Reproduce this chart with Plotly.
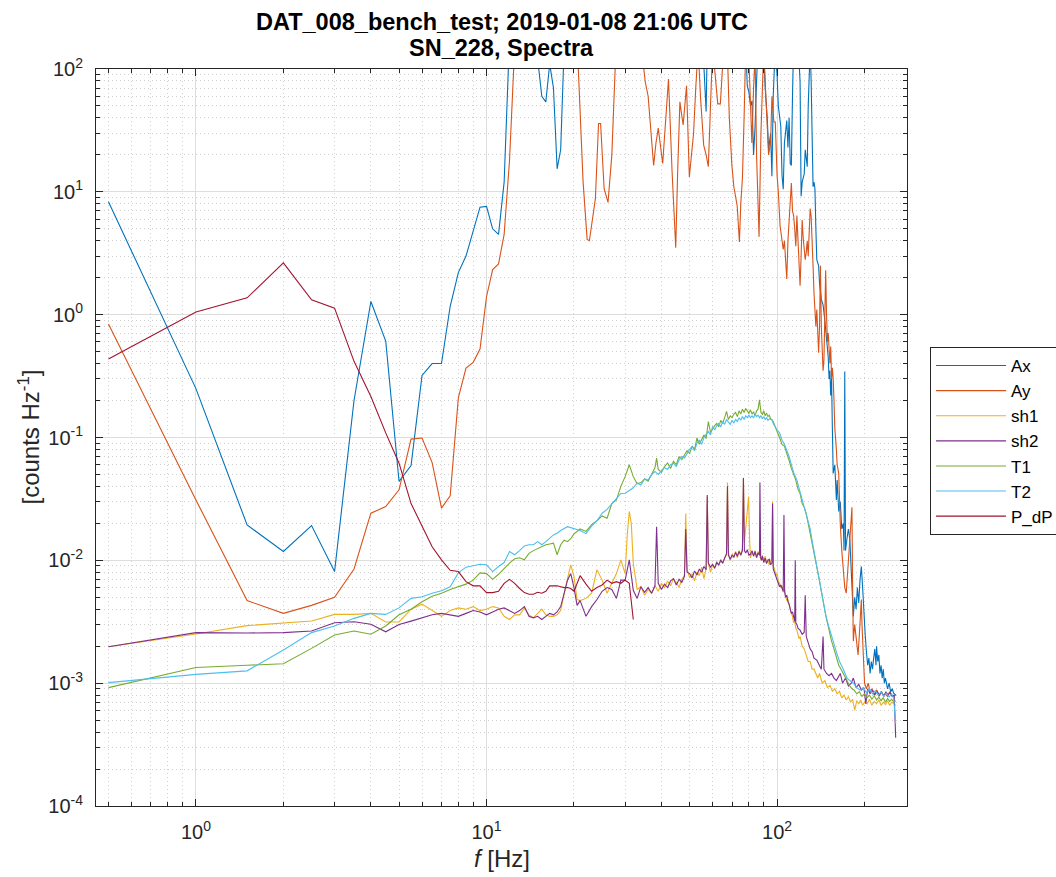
import numpy as np
import plotly.graph_objects as go

# Spectra per channel: (frequency [Hz], level [counts Hz^-1])
AX = [(0.5, 8.3), (1.0, 0.25), (1.5, 0.0194), (2.0, 0.0118), (2.5, 0.0192), (3.0, 0.0081),
      (3.5, 0.2), (4.0, 1.28), (4.5, 0.61), (5.0, 0.044), (5.5, 0.059), (6.0, 0.32),
      (6.5, 0.40), (7.0, 0.40), (7.5, 1.17), (8.0, 2.2), (8.5, 3.0), (9.0, 4.9), (9.5, 7.5),
      (10.0, 7.6), (10.5, 5.0), (11.0, 4.5), (11.5, 12.0), (12.0, 180), (12.5, 400),
      (13.5, 650), (14.5, 300), (15.0, 120), (15.5, 60), (16.0, 54), (16.5, 110), (17.0, 70),
      (17.5, 15.4), (18.0, 22), (18.5, 150), (20, 450), (24, 900), (28, 600), (33, 800),
      (38, 500), (43, 700), (48, 400), (52, 600), (55, 250), (56.5, 68), (57, 45), (57.5, 160),
      (60, 450), (65, 300), (70, 500), (75, 300), (78, 160), (79, 72), (80, 65), (81, 50),
      (82, 55), (83, 20), (84, 34), (85, 80), (86, 150), (88, 220), (90, 130), (91, 70),
      (92.5, 40), (93.5, 22), (95, 30), (96, 13.4), (97, 60), (98.5, 150), (100, 90), (101, 50),
      (103, 34), (104, 13.6), (105, 10.5), (106, 25), (108, 38), (109, 23), (110, 40), (111, 17),
      (112, 16.4), (113, 60), (114, 160), (116, 300), (118, 180), (120, 78), (121, 9.2),
      (122, 12), (124, 14), (125, 22), (126, 19.5), (127, 16), (128, 50), (130, 150), (131, 80),
      (132, 30), (133, 11), (134, 12), (135, 10.6), (136, 5), (137, 2.8), (139, 2.5), (140, 1.8),
      (142, 1.34), (144, 1.2), (146, 0.9), (148, 0.6), (150, 0.45), (151, 0.3), (152, 0.35),
      (153, 0.22), (154, 0.3), (155, 0.12), (156, 0.051), (158, 0.06), (160, 0.031),
      (161, 0.045), (163, 0.025), (165, 0.03), (167, 0.018), (169, 0.02), (170, 0.012),
      (171, 0.345), (172, 0.012), (174, 0.015), (176, 0.018), (178, 0.0147), (180, 0.008),
      (182, 0.005), (183, 0.0035), (185, 0.005), (187, 0.004), (189, 0.006), (191, 0.0045),
      (193, 0.007), (195, 0.0089), (197, 0.006), (199, 0.0035), (201, 0.0025), (203, 0.0018),
      (205, 0.0014), (207, 0.0016), (209, 0.0012), (211, 0.0015), (213, 0.0013), (215, 0.0016),
      (217, 0.0019), (219, 0.0014), (220, 0.002), (222, 0.0015), (224, 0.0017), (226, 0.0012),
      (228, 0.0014), (230, 0.0011), (232, 0.0013), (234, 0.001), (236, 0.0011), (238, 0.001),
      (240, 0.0009), (243, 0.001), (246, 0.00085), (249, 0.0009), (252, 0.00083), (256, 0.0008)]

AY = [(0.5, 0.84), (1.0, 0.031), (1.5, 0.0047), (2.0, 0.0037), (2.5, 0.0043), (3.0, 0.005),
      (3.5, 0.0085), (4.0, 0.0242), (4.5, 0.0274), (5.0, 0.0375), (5.5, 0.097), (6.0, 0.099),
      (6.5, 0.0625), (7.0, 0.0266), (7.5, 0.0335), (8.0, 0.21), (8.5, 0.368), (9.0, 0.409),
      (9.5, 0.525), (10.0, 1.4), (10.5, 2.33), (11.0, 2.59), (11.5, 4.5), (12.0, 18),
      (12.5, 150), (13, 400), (15, 800), (18, 600), (20, 300), (20.7, 100), (21.5, 12),
      (22.2, 4.1), (22.6, 4.0), (23.2, 6), (23.7, 8.8), (24.3, 36), (24.7, 36), (25.4, 10.6),
      (26.2, 8.2), (27, 20), (27.8, 120), (29, 400), (31, 500), (33, 300), (34.5, 110),
      (35.2, 78), (36, 60), (37.6, 16.4), (38.3, 25), (39, 33), (40.4, 17), (41.5, 40),
      (42.3, 83), (43.5, 15), (44.8, 3.5), (45.5, 15), (46.3, 54), (47.5, 35), (48.2, 50),
      (48.8, 73), (49.9, 13.2), (51.6, 30), (52.5, 70), (53.5, 150), (54.5, 60), (55.9, 24),
      (57, 20), (58, 16), (59, 50), (60, 150), (61.5, 80), (62.5, 52), (63.8, 52), (65, 120),
      (66, 200), (67.5, 130), (68.5, 40), (69.9, 16.4), (71, 11), (72.9, 7.7), (74.2, 3.9),
      (75, 8), (76, 13), (77, 40), (78, 150), (80, 120), (81, 60), (81.9, 25), (83, 70),
      (84, 130), (85, 20), (86.7, 4.3), (88, 30), (90, 150), (91.5, 60), (93.5, 20), (95, 25),
      (96, 60), (97.5, 37), (98.6, 37), (100, 13.6), (101, 10), (102.4, 5.3), (103.5, 4.5),
      (105, 3.4), (106, 4.0), (107, 3.0), (108, 1.95), (109, 4), (110, 6), (111, 8.8),
      (112, 11.8), (113, 7), (114, 6.4), (115, 5), (116, 3.6), (117, 6.4), (118, 4), (119, 3),
      (120, 1.72), (121, 3), (122, 5.9), (123, 4.2), (124, 3.5), (125, 2.8), (126, 3.2),
      (127, 4), (128, 3), (129, 5), (130, 7.3), (131, 6.3), (132, 4.5), (133, 2.5), (134, 1.5),
      (135, 1.04), (136, 0.8), (137, 1.1), (138, 0.6), (139, 0.49), (140, 0.8), (141, 2.5),
      (142, 0.8), (143, 0.5), (144, 0.35), (145, 0.43), (146, 0.8), (147, 2.3), (148, 1.0),
      (149, 0.6), (150, 0.71), (151, 0.5), (152, 0.4), (153, 0.55), (154, 0.3), (155, 0.37),
      (156, 0.3), (157, 0.2), (158, 0.12), (160, 0.08), (161, 0.06), (163, 0.051), (164, 0.03),
      (165, 0.02), (167, 0.012), (169, 0.0078), (171, 0.006), (173, 0.0054), (175, 0.008),
      (177, 0.012), (179, 0.02), (181, 0.027), (182, 0.006), (183, 0.0022), (185, 0.003),
      (187, 0.0024), (189, 0.002), (190, 0.0017), (192, 0.0025), (194, 0.004), (195, 0.0048),
      (196, 0.003), (198, 0.0015), (200, 0.001), (203, 0.0009), (206, 0.001), (209, 0.00085),
      (212, 0.0009), (216, 0.0008), (220, 0.00088), (224, 0.00078), (228, 0.00085),
      (232, 0.0008), (236, 0.00082), (240, 0.00078), (244, 0.00085), (248, 0.0008),
      (252, 0.00078), (256, 0.0008)]

SH1 = [(0.5, 0.00198), (1.0, 0.00251), (1.5, 0.00294), (2.0, 0.00311), (2.5, 0.00321),
       (3.0, 0.00363), (3.5, 0.00363), (4.0, 0.0037), (4.5, 0.00315), (5.0, 0.00315),
       (5.5, 0.0040), (6.0, 0.0044), (6.5, 0.0039), (7.0, 0.0035), (7.5, 0.0039), (8.0, 0.0041),
       (8.5, 0.004), (9.0, 0.0042), (9.5, 0.0039), (10.0, 0.004), (10.5, 0.0042), (11.0, 0.0041),
       (11.5, 0.0035), (12.0, 0.0033), (12.5, 0.0036), (13.0, 0.0036), (13.5, 0.0041),
       (14.0, 0.0036), (14.5, 0.0034), (15.0, 0.0037), (15.5, 0.004), (16.0, 0.0036),
       (16.5, 0.0035), (17.0, 0.0035), (17.5, 0.0036), (18.0, 0.0039), (18.5, 0.0054),
       (19.0, 0.0071), (19.5, 0.0092), (20.0, 0.0074), (20.5, 0.0048), (21, 0.0047),
       (22, 0.0049), (23, 0.0054), (24, 0.0084), (25, 0.0069), (26, 0.0054), (27, 0.0066),
       (28, 0.0078), (29, 0.0101), (30, 0.0078), (30.5, 0.016), (31, 0.025), (31.5, 0.02),
       (32, 0.0094), (33, 0.0058), (34, 0.0061), (35, 0.0052), (36, 0.0058), (37, 0.0054),
       (38, 0.0062), (39, 0.0056), (40, 0.0065), (41, 0.0060), (42, 0.0068), (43, 0.0062),
       (44, 0.0071), (45, 0.0066), (46, 0.0060), (47, 0.0070), (48, 0.0075), (48.5, 0.024),
       (49, 0.0085), (50, 0.0072), (51, 0.0078), (52, 0.0068), (53, 0.0080), (54, 0.0075),
       (55, 0.0088), (56, 0.0071), (57, 0.0085), (57.5, 0.033), (58, 0.0095), (59, 0.0080),
       (60, 0.0092), (61, 0.0088), (62, 0.0098), (63, 0.0090), (64, 0.0102), (65, 0.0094),
       (66, 0.0105), (67, 0.0110), (67.5, 0.043), (68, 0.0115), (69, 0.0100), (70, 0.0112),
       (71, 0.0108), (72, 0.0118), (73, 0.0105), (74, 0.0120), (75, 0.0112), (76, 0.0125),
       (76.6, 0.047), (77.2, 0.014), (78, 0.018), (79, 0.026), (79.8, 0.033), (80.5, 0.014),
       (81, 0.0105), (82, 0.0115), (83, 0.011), (84, 0.0120), (85, 0.0105), (86, 0.0118),
       (87, 0.0112), (88, 0.0100), (89, 0.0110), (90, 0.0098), (91, 0.0108), (92, 0.0095),
       (93, 0.0102), (94, 0.0092), (95, 0.0098), (96, 0.0105), (96.5, 0.03), (97, 0.009),
       (98, 0.0085), (99, 0.0075), (100, 0.0078), (101, 0.0068), (102, 0.0065), (103, 0.0060),
       (104, 0.0062), (105, 0.0055), (106, 0.0058), (107, 0.0050), (108, 0.0047),
       (109, 0.0048), (110, 0.0042), (111, 0.0040), (112, 0.0037), (113, 0.0035),
       (114, 0.0031), (115, 0.0032), (116, 0.0028), (117, 0.0027), (118, 0.0025),
       (119, 0.0023), (120, 0.0024), (122, 0.0020), (124, 0.0019), (126, 0.0017), (128, 0.0015),
       (130, 0.0015), (132, 0.0013), (134, 0.0013), (136, 0.0012), (138, 0.0011), (140, 0.0012),
       (143, 0.001), (146, 0.00105), (149, 0.00092), (152, 0.00096), (155, 0.00086),
       (158, 0.0009), (161, 0.00082), (164, 0.00086), (167, 0.00076), (170, 0.0008),
       (173, 0.00073), (176, 0.00078), (179, 0.0007), (182, 0.00074), (185, 0.0006),
       (188, 0.00072), (191, 0.00068), (194, 0.00073), (197, 0.00066), (200, 0.0007),
       (204, 0.00068), (208, 0.00074), (212, 0.00066), (216, 0.00071), (220, 0.00068),
       (224, 0.00073), (228, 0.00066), (232, 0.0007), (236, 0.00067), (240, 0.00072),
       (244, 0.00066), (248, 0.0007), (252, 0.00068), (256, 0.00066)]

SH2 = [(0.5, 0.00198), (1.0, 0.00258), (1.5, 0.00256), (2.0, 0.00258), (2.5, 0.00266),
       (3.0, 0.0031), (3.5, 0.00316), (4.0, 0.00302), (4.5, 0.00262), (5.0, 0.0030),
       (5.5, 0.0032), (6.0, 0.0034), (6.5, 0.0036), (7.0, 0.0037), (7.5, 0.0036), (8.0, 0.0035),
       (8.5, 0.0037), (9.0, 0.0039), (9.5, 0.0038), (10.0, 0.0036), (10.5, 0.0038),
       (11.0, 0.004), (11.5, 0.0041), (12.0, 0.0039), (12.5, 0.0037), (13.0, 0.0039),
       (13.5, 0.0042), (14.0, 0.0035), (14.5, 0.0034), (15.0, 0.0035), (15.5, 0.0033),
       (16.0, 0.0035), (16.5, 0.0037), (17.0, 0.0036), (17.5, 0.0038), (18.0, 0.0042),
       (18.5, 0.0054), (19.0, 0.0069), (19.5, 0.0078), (20.0, 0.006), (20.5, 0.0043),
       (21, 0.0047), (22, 0.0035), (23, 0.0042), (24, 0.0048), (25, 0.0056), (26, 0.006),
       (27, 0.0058), (28, 0.0049), (29, 0.0069), (30, 0.0069), (31, 0.0101), (32, 0.0057),
       (33, 0.0049), (34, 0.0061), (35, 0.0055), (36, 0.0060), (37, 0.0054), (38, 0.0062),
       (38.5, 0.0188), (39, 0.0065), (40, 0.0058), (41, 0.0064), (42, 0.0060), (43, 0.0068),
       (44, 0.0071), (45, 0.0063), (46, 0.0070), (47, 0.0066), (48, 0.0074), (48.5, 0.018),
       (49, 0.0080), (50, 0.0078), (51, 0.0072), (52, 0.0082), (53, 0.0076), (54, 0.0085),
       (55, 0.0080), (56, 0.0089), (57, 0.0084), (57.5, 0.034), (58, 0.0095), (59, 0.0088),
       (60, 0.0093), (61, 0.0086), (62, 0.0096), (63, 0.0092), (64, 0.0100), (65, 0.0095),
       (66, 0.0104), (67, 0.0114), (67.5, 0.040), (68, 0.0110), (69, 0.0102), (70, 0.0110),
       (71, 0.0106), (72, 0.0116), (73, 0.0108), (74, 0.0118), (75, 0.0110), (76, 0.0120),
       (76.6, 0.0467), (77.2, 0.012), (78, 0.0115), (79, 0.0122), (80, 0.0110), (81, 0.0112),
       (82, 0.0120), (83, 0.0108), (84, 0.0118), (85, 0.0105), (86, 0.0115), (87, 0.0110),
       (87.3, 0.043), (87.8, 0.0105), (88.5, 0.0100), (89, 0.0108), (90, 0.0096), (91, 0.0104),
       (92, 0.0094), (93, 0.0100), (94, 0.0102), (95, 0.0092), (96, 0.0095), (96.5, 0.029),
       (97, 0.0085), (98, 0.0080), (99, 0.0075), (100, 0.0070), (101, 0.0066), (102, 0.0061),
       (103, 0.0063), (104, 0.0058), (105, 0.0056), (105.6, 0.0234), (106.2, 0.0055),
       (107, 0.0050), (108, 0.0052), (109, 0.0046), (110, 0.0044), (111, 0.0040),
       (112, 0.0037), (113, 0.0038), (114, 0.0034), (115, 0.0032), (115.5, 0.010),
       (116, 0.0031), (117, 0.0030), (118, 0.0028), (120, 0.0027), (122, 0.0025),
       (124, 0.0026), (125, 0.0052), (126, 0.0024), (128, 0.0021), (130, 0.0019),
       (132, 0.0018), (134, 0.0016), (137, 0.00154), (140, 0.0014), (142, 0.0013),
       (144, 0.0024), (145, 0.0013), (148, 0.0012), (151, 0.00115), (154, 0.0012),
       (157, 0.0011), (160, 0.00105), (165, 0.0012), (168, 0.001), (172, 0.0011),
       (176, 0.00095), (180, 0.001), (183, 0.0011), (187, 0.00092), (191, 0.00098),
       (195, 0.00088), (199, 0.00092), (202, 0.00068), (205, 0.0009), (209, 0.00082),
       (213, 0.00088), (217, 0.0008), (221, 0.00086), (225, 0.0008), (229, 0.00085),
       (233, 0.00078), (237, 0.00085), (241, 0.0008), (245, 0.00084), (249, 0.00078),
       (253, 0.0008), (256, 0.00036)]

T1 = [(0.5, 0.00092), (1.0, 0.00134), (1.5, 0.0014), (2.0, 0.00144), (2.5, 0.00192),
      (3.0, 0.00247), (3.5, 0.00266), (4.0, 0.0025), (4.5, 0.00292), (5.0, 0.0036),
      (5.5, 0.004), (6.0, 0.0046), (6.5, 0.0051), (7.0, 0.0054), (7.5, 0.0058), (8.0, 0.0061),
      (8.5, 0.0064), (9.0, 0.0069), (9.5, 0.0079), (10.0, 0.0078), (10.5, 0.007),
      (11.0, 0.0077), (11.5, 0.0086), (12.0, 0.0095), (12.5, 0.0103), (13.0, 0.0105),
      (13.5, 0.0101), (14.0, 0.0114), (14.5, 0.012), (15.0, 0.0125), (15.5, 0.013),
      (16.0, 0.0134), (16.5, 0.0136), (17.0, 0.0138), (17.5, 0.0111), (18.0, 0.0134),
      (18.5, 0.0146), (19.0, 0.0142), (19.5, 0.015), (20, 0.0164), (21, 0.018), (22, 0.0172),
      (23, 0.0195), (24, 0.021), (25, 0.023), (26, 0.022), (27, 0.029), (28, 0.031), (29, 0.04),
      (30, 0.048), (31, 0.06), (32, 0.048), (33, 0.042), (34, 0.043), (35, 0.046), (36, 0.044),
      (37, 0.05), (38, 0.057), (38.5, 0.068), (39, 0.055), (40, 0.052), (41, 0.058),
      (42, 0.062), (43, 0.056), (44, 0.064), (45, 0.060), (46, 0.070), (47, 0.066),
      (48, 0.072), (49, 0.078), (50, 0.074), (51, 0.085), (52, 0.080), (53, 0.099),
      (54, 0.088), (55, 0.095), (56, 0.105), (57, 0.098), (58, 0.135), (59, 0.11), (60, 0.118),
      (61, 0.125), (62, 0.13), (63, 0.122), (64, 0.138), (65, 0.13), (66, 0.145), (67, 0.163),
      (68, 0.14), (69, 0.15), (70, 0.145), (71, 0.155), (72, 0.16), (73, 0.148), (74, 0.165),
      (75, 0.155), (76, 0.17), (77, 0.16), (78, 0.172), (79, 0.165), (80, 0.158), (81, 0.168),
      (82, 0.155), (83, 0.162), (84, 0.15), (85, 0.165), (86, 0.17), (87, 0.203), (88, 0.16),
      (89, 0.155), (90, 0.165), (91, 0.15), (92, 0.158), (93, 0.148), (94, 0.152),
      (95, 0.142), (96, 0.14), (97, 0.135), (98, 0.125), (99, 0.12), (100, 0.112),
      (102, 0.10), (104, 0.088), (106, 0.085), (108, 0.075), (110, 0.065), (112, 0.056),
      (114, 0.05), (116, 0.045), (118, 0.038), (120, 0.035), (122, 0.029), (124, 0.027),
      (126, 0.024), (128, 0.02), (130, 0.017), (132, 0.014), (134, 0.012), (136, 0.0098),
      (138, 0.0082), (140, 0.0068), (142, 0.0056), (144, 0.0046), (146, 0.0039),
      (148, 0.0033), (150, 0.0029), (152, 0.0025), (154, 0.0022), (156, 0.002), (158, 0.0018),
      (160, 0.0016), (163, 0.0014), (166, 0.0013), (169, 0.0012), (172, 0.0011), (175, 0.001),
      (178, 0.00095), (181, 0.0009), (184, 0.00088), (188, 0.00082), (192, 0.00085),
      (196, 0.00078), (200, 0.00082), (204, 0.00076), (208, 0.0008), (212, 0.00074),
      (216, 0.00079), (220, 0.00073), (224, 0.00077), (228, 0.00072), (232, 0.00076),
      (236, 0.0007), (240, 0.00075), (244, 0.00071), (248, 0.00074), (252, 0.0007),
      (256, 0.00072)]

T2 = [(0.5, 0.00101), (1.0, 0.00118), (1.5, 0.00126), (2.0, 0.00186), (2.5, 0.00258),
      (3.0, 0.00292), (3.5, 0.00337), (4.0, 0.0037), (4.5, 0.00363), (5.0, 0.0041),
      (5.5, 0.0049), (6.0, 0.00506), (6.5, 0.0054), (7.0, 0.00566), (7.5, 0.0061),
      (8.0, 0.0079), (8.5, 0.0088), (9.0, 0.009), (9.5, 0.0093), (10.0, 0.0092),
      (10.5, 0.0081), (11.0, 0.0089), (11.5, 0.0096), (12.0, 0.0118), (12.5, 0.0111),
      (13.0, 0.012), (13.5, 0.0131), (14.0, 0.0134), (14.5, 0.0134), (15.0, 0.0142),
      (15.5, 0.0134), (16.0, 0.0142), (16.5, 0.0151), (17.0, 0.0161), (17.5, 0.0166),
      (18, 0.0175), (19, 0.0188), (20, 0.018), (21, 0.0175), (22, 0.0165), (23, 0.019),
      (24, 0.021), (25, 0.0242), (26, 0.026), (27, 0.029), (28, 0.032), (29, 0.035),
      (30, 0.0352), (31, 0.037), (32, 0.039), (33, 0.0426), (34, 0.041), (35, 0.046),
      (36, 0.045), (37, 0.05), (38, 0.0529), (39, 0.05), (40, 0.054), (41, 0.057), (42, 0.055),
      (43, 0.06), (44, 0.0618), (45, 0.058), (46, 0.066), (47, 0.07), (48, 0.068), (49, 0.075),
      (50, 0.08), (51, 0.0845), (52, 0.078), (53, 0.09), (54, 0.095), (55, 0.088), (56, 0.1),
      (57, 0.106), (58, 0.112), (59, 0.105), (60, 0.123), (61, 0.115), (62, 0.125), (63, 0.13),
      (64, 0.122), (65, 0.135), (66, 0.128), (67, 0.14), (68, 0.135), (69, 0.128), (70, 0.138),
      (71, 0.131), (72, 0.14), (73, 0.135), (74, 0.145), (75, 0.138), (76, 0.148), (77, 0.14),
      (78, 0.15), (79, 0.145), (80, 0.152), (81, 0.145), (82, 0.15), (83, 0.144), (84, 0.155),
      (85, 0.148), (86, 0.152), (87, 0.145), (88, 0.15), (89, 0.142), (90, 0.148), (91, 0.14),
      (92, 0.145), (93, 0.138), (94, 0.142), (95, 0.14), (96, 0.139), (97, 0.13), (98, 0.125),
      (99, 0.118), (100, 0.115), (102, 0.109), (104, 0.095), (106, 0.088), (108, 0.079),
      (110, 0.07), (112, 0.06), (114, 0.052), (117, 0.045), (120, 0.036), (122, 0.031),
      (124, 0.028), (126, 0.0242), (128, 0.021), (130, 0.018), (132, 0.0145), (135, 0.0107),
      (137, 0.0088), (139, 0.0072), (141, 0.006), (144, 0.0045), (147, 0.0036), (150, 0.003),
      (153, 0.0025), (156, 0.0022), (160, 0.0018), (164, 0.0015), (169, 0.0013),
      (174, 0.0011), (178, 0.00105), (183, 0.001), (188, 0.00092), (193, 0.00088),
      (198, 0.00092), (203, 0.00084), (208, 0.0009), (213, 0.00082), (218, 0.00087),
      (223, 0.0008), (228, 0.00085), (233, 0.00078), (238, 0.00083), (243, 0.00077),
      (248, 0.00082), (252, 0.00075), (256, 0.00047)]

P_DP = [(0.5, 0.435), (1.0, 1.05), (1.5, 1.37), (2.0, 2.64), (2.5, 1.32), (3.0, 1.13),
        (3.5, 0.417), (4.0, 0.216), (4.5, 0.109), (5.0, 0.0618), (5.5, 0.029), (6.0, 0.0188),
        (6.5, 0.0129), (7.0, 0.0101), (7.5, 0.0083), (8.0, 0.0081), (8.5, 0.0067),
        (9.0, 0.0062), (9.5, 0.0062), (10.0, 0.00546), (10.5, 0.00546), (11.0, 0.0056),
        (11.5, 0.0065), (12.0, 0.0070), (12.5, 0.0065), (13.0, 0.0059), (13.5, 0.00546),
        (14.0, 0.0053), (14.5, 0.0053), (15.0, 0.0055), (15.5, 0.0054), (16.0, 0.0056),
        (16.5, 0.0062), (17.0, 0.0062), (17.5, 0.0062), (18.0, 0.0061), (18.5, 0.006),
        (19.0, 0.006), (19.5, 0.0059), (20, 0.0056), (21, 0.0075), (22, 0.0064), (23, 0.0056),
        (24, 0.0060), (25, 0.0063), (26, 0.0069), (27, 0.0065), (28, 0.0067), (29, 0.0065),
        (30, 0.0069), (31, 0.0065), (32, 0.0033)]

SERIES = [("Ax", AX, "#0072BD"), ("Ay", AY, "#D95319"), ("sh1", SH1, "#EDB120"),
          ("sh2", SH2, "#7E2F8E"), ("T1", T1, "#77AC30"), ("T2", T2, "#4DBEEE"),
          ("P_dP", P_DP, "#A2142F")]

X_MAJOR = [1, 10, 100]
X_MINOR = [m * 10.0 ** e for e in (-1, 0, 1, 2) for m in range(2, 10)]
Y_MAJOR = [10.0 ** e for e in range(-4, 3)]
Y_MINOR = [m * 10.0 ** e for e in range(-4, 2) for m in range(2, 10)]

FONT = "Liberation Sans, Arial, Helvetica, sans-serif"
INK = "#262626"

fig = go.Figure()
for name, pts, color in SERIES:
    f, v = zip(*pts)
    fig.add_trace(go.Scatter(x=list(f), y=list(v), mode="lines", name=name,
                             line=dict(color=color, width=1.1)))


def sup_labels(vals):
    return ["10<sup>%d</sup>" % round(np.log10(v)) for v in vals]


axis_common = dict(
    type="log", showline=True, linecolor=INK, linewidth=1, mirror="allticks",
    ticks="inside", ticklen=7, tickcolor=INK, tickwidth=1,
    showgrid=True, gridcolor="#dedede", gridwidth=1, zeroline=False,
    tickfont=dict(family=FONT, size=20, color=INK), tickmode="array",
)
minor_common = dict(tickmode="array", ticks="inside", ticklen=4, tickcolor=INK,
                    showgrid=True, gridcolor="#cfcfcf", griddash="1px,3px", gridwidth=1)

fig.update_xaxes(
    range=[np.log10(0.453), np.log10(280)], tickvals=X_MAJOR, ticktext=sup_labels(X_MAJOR),
    ticklabelstandoff=8, minor=dict(tickvals=X_MINOR, **minor_common), **axis_common)
fig.update_yaxes(
    range=[-4, 2], tickvals=Y_MAJOR, ticktext=sup_labels(Y_MAJOR), ticklabelstandoff=8,
    minor=dict(tickvals=Y_MINOR, **minor_common), **axis_common)

fig.add_annotation(text="<b>DAT_008_bench_test; 2019-01-08 21:06 UTC</b>", x=0.5, y=1.0638,
                   xref="paper", yref="paper", showarrow=False, yanchor="middle",
                   font=dict(family=FONT, size=23.5, color="#000000"))
fig.add_annotation(text="<b>SN_228, Spectra</b>", x=0.5, y=1.0285, xref="paper", yref="paper",
                   showarrow=False, yanchor="middle",
                   font=dict(family=FONT, size=23.5, color="#000000"))
fig.add_annotation(text="<i>f</i> [Hz]", x=0.5, y=-0.0706, xref="paper", yref="paper",
                   showarrow=False, yanchor="middle",
                   font=dict(family=FONT, size=24, color=INK))
fig.add_annotation(text="[counts Hz<sup>-1</sup>]", x=-0.0838, y=0.5, xref="paper",
                   yref="paper", showarrow=False, textangle=-90, xanchor="center",
                   yanchor="middle", font=dict(family=FONT, size=24, color=INK))

fig.update_layout(
    width=1056, height=877,
    margin=dict(l=96, r=149, t=69, b=71, autoexpand=False),
    paper_bgcolor="white", plot_bgcolor="white",
    showlegend=True,
    legend=dict(x=1.0284, y=0.6228, xanchor="left", yanchor="top",
                bgcolor="white", bordercolor=INK, borderwidth=1,
                font=dict(family=FONT, size=17, color="#000000"),
                tracegroupgap=0, itemwidth=70),
)

fig.write_html("out.html")
